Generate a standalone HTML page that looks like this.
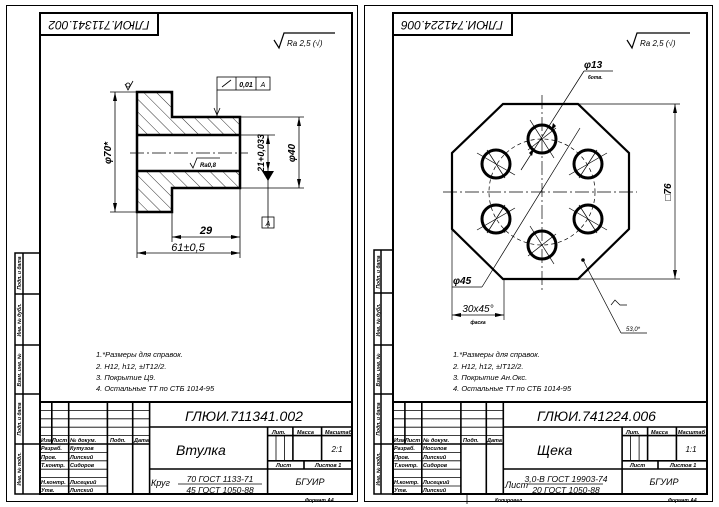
<!DOCTYPE html>
<html><head><meta charset="utf-8"><style>
html,body{margin:0;padding:0;background:#fff;}
svg{display:block;}
text{font-family:"Liberation Sans",sans-serif;font-style:italic;fill:#000;}
</style></head><body>
<svg width="719" height="507" viewBox="0 0 719 507" xmlns="http://www.w3.org/2000/svg">
<defs>
<pattern id="h" width="9" height="9" patternUnits="userSpaceOnUse" patternTransform="rotate(-45)">
<line x1="0" y1="0" x2="0" y2="9" stroke="#000" stroke-width="0.8"/>
</pattern>
</defs>
<rect width="719" height="507" fill="#fff"/>
<g fill="none" stroke="#000" stroke-width="1">
<rect x="6.5" y="5.5" width="351" height="496"/>
<rect x="364.5" y="5.5" width="348" height="496"/>
</g>
<g fill="none" stroke="#000" stroke-width="2">
<rect x="40" y="13" width="312" height="481"/>
<rect x="393" y="13" width="314" height="481"/>
<rect x="40" y="13" width="118" height="22"/>
<rect x="393" y="13" width="119" height="22"/>
</g>
<text transform="translate(99,24) rotate(180)" font-size="12" text-anchor="middle" dominant-baseline="middle">ГЛЮИ.711341.002</text>
<text transform="translate(452,24) rotate(180)" font-size="12" text-anchor="middle" dominant-baseline="middle">ГЛЮИ.741224.006</text>

<g fill="none" stroke="#000" stroke-width="1.2">
<path d="M274,40 L279,48 L284,33 H335"/>
<path d="M627,40 L632,48 L637,33 H690"/>
</g>
<text x="287" y="46" font-size="8">Ra 2,5 (√)</text>
<text x="640" y="46" font-size="8">Ra 2,5 (√)</text>

<path d="M137,92 H172 V117 H240 V135 H137 Z" fill="url(#h)"/>
<path d="M137,171 H240 V188 H172 V212 H137 Z" fill="url(#h)"/>
<g fill="none" stroke="#000" stroke-width="2.5">
<path d="M137,92 H172 V117 H240 V188 H172 V212 H137 Z"/>
<line x1="137" y1="135" x2="240" y2="135"/>
<line x1="137" y1="171" x2="240" y2="171"/>
</g>
<g stroke="#000" stroke-width="0.8" fill="none">
<line x1="130" y1="153" x2="248" y2="153" stroke-dasharray="14,3,2,3"/>
<line x1="110" y1="92" x2="137" y2="92"/><line x1="110" y1="212" x2="137" y2="212"/>
<line x1="115" y1="92" x2="115" y2="212"/>
<line x1="240" y1="117" x2="304" y2="117"/><line x1="240" y1="188" x2="304" y2="188"/>
<line x1="299" y1="117" x2="299" y2="188"/>
<line x1="240" y1="135" x2="275" y2="135"/>
<line x1="268" y1="135" x2="268" y2="228"/>
<rect x="262" y="217" width="12" height="11"/>
<rect x="217" y="77" width="53" height="13"/>
<line x1="236" y1="77" x2="236" y2="90"/><line x1="256" y1="77" x2="256" y2="90"/>
<line x1="217" y1="90" x2="217" y2="117"/>
<line x1="222" y1="87" x2="231" y2="80"/>
<path d="M214,108 L217,115 L220,108"/>
<line x1="172" y1="212" x2="172" y2="242"/>
<line x1="137" y1="212" x2="137" y2="258"/>
<line x1="240" y1="188" x2="240" y2="258"/>
<line x1="172" y1="237" x2="240" y2="237"/>
<line x1="137" y1="253" x2="240" y2="253"/>
<path d="M190,163 L193,168 L197,158 H220"/>
<path d="M125,84 L128,90 L133,81"/>
<circle cx="128" cy="85" r="2"/>
</g>
<g fill="#000">
<path d="M115,92 l-2,9 h4z"/><path d="M115,212 l-2,-9 h4z"/>
<path d="M299,117 l-2,9 h4z"/><path d="M299,188 l-2,-9 h4z"/>
<path d="M268,135 l-2,9 h4z"/><path d="M268,171 l-2,-9 h4z"/>
<path d="M262,171 h12 l-6,10z"/>
<path d="M172,237 l9,-2 v4z"/><path d="M240,237 l-9,-2 v4z"/>
<path d="M137,253 l9,-2 v4z"/><path d="M240,253 l-9,-2 v4z"/>
</g>
<text x="268" y="226" font-size="7" text-anchor="middle">A</text>
<text x="246" y="87" font-size="7" text-anchor="middle" font-weight="bold">0,01</text>
<text x="263" y="87" font-size="7" text-anchor="middle">A</text>
<text x="200" y="167" font-size="6" font-weight="bold">Ra0,8</text>
<text transform="translate(111,153) rotate(-90)" font-size="10" text-anchor="middle" font-weight="bold">φ70*</text>
<text transform="translate(295,153) rotate(-90)" font-size="10" text-anchor="middle" font-weight="bold">φ40</text>
<text transform="translate(264,153) rotate(-90)" font-size="9" text-anchor="middle" font-weight="bold">21+0,033</text>
<text x="206" y="234" font-size="11" text-anchor="middle" font-weight="bold">29</text>
<text x="188" y="251" font-size="11" text-anchor="middle">61±0,5</text>

<g fill="none" stroke="#000">
<path d="M503,104 H578 L629,153 V229 L578,279 H503 L452,229 V153 Z" stroke-width="2.2"/>
<g stroke-width="3">
<circle cx="542" cy="139" r="14"/><circle cx="542" cy="245" r="14"/>
<circle cx="496" cy="164" r="14"/><circle cx="588" cy="164" r="14"/>
<circle cx="496" cy="219" r="14"/><circle cx="588" cy="219" r="14"/>
</g>
<g stroke-width="0.7">
<circle cx="542" cy="192" r="53" stroke-dasharray="4,3"/>
<line x1="443" y1="192" x2="637" y2="192" stroke-dasharray="14,3,2,3"/>
<line x1="542" y1="95" x2="542" y2="290" stroke-dasharray="14,3,2,3"/>
<line x1="477" y1="153" x2="515" y2="175"/><line x1="569" y1="175" x2="607" y2="153"/>
<line x1="477" y1="230" x2="515" y2="208"/><line x1="569" y1="208" x2="607" y2="230"/>
<line x1="487" y1="150" x2="505" y2="178"/><line x1="579" y1="178" x2="597" y2="150"/>
<line x1="487" y1="233" x2="505" y2="205"/><line x1="579" y1="205" x2="597" y2="233"/>
<line x1="530" y1="120" x2="554" y2="158"/><line x1="528" y1="150" x2="556" y2="128"/>
<line x1="530" y1="226" x2="554" y2="264"/><line x1="528" y1="256" x2="556" y2="234"/>
<line x1="578" y1="104" x2="680" y2="104"/><line x1="578" y1="279" x2="680" y2="279"/>
<line x1="675" y1="104" x2="675" y2="279"/>
<line x1="521" y1="170" x2="584" y2="71"/>
<line x1="584" y1="71" x2="613" y2="71"/>
<line x1="580" y1="128" x2="482" y2="287"/>
<line x1="482" y1="287" x2="452" y2="287"/>
<line x1="452" y1="229" x2="452" y2="320"/>
<line x1="504" y1="279" x2="504" y2="320"/>
<line x1="452" y1="315" x2="504" y2="315"/>
<line x1="583" y1="260" x2="621" y2="333"/>
<line x1="621" y1="333" x2="647" y2="333"/>
<path d="M611,305 L615,300 L620,305 H627"/>
</g>
</g>
<g fill="#000">
<path d="M675,104 l-2,9 h4z"/><path d="M675,279 l-2,-9 h4z"/>
<path d="M553,123 l-2,8 l5,-5z"/><path d="M532,156 l2,-8 l-5,5z"/>
<path d="M505,233 l2,-8 l-5,5z"/>
<path d="M452,315 l9,-2 v4z"/><path d="M504,315 l-9,-2 v4z"/>
<circle cx="583" cy="260" r="1.8"/>
</g>
<text x="584" y="68" font-size="10" font-weight="bold">φ13</text>
<text x="588" y="79" font-size="5" font-weight="bold">6отв.</text>
<text transform="translate(671,192) rotate(-90)" font-size="10" text-anchor="middle" font-weight="bold">□76</text>
<text x="453" y="284" font-size="10" font-weight="bold">φ45</text>
<text x="478" y="312" font-size="10" text-anchor="middle">30x45°</text>
<text x="478" y="324" font-size="5" text-anchor="middle" font-weight="bold">фаска</text>
<text x="626" y="331" font-size="6">53,0*</text>

<g font-size="7.5">
<text x="96" y="357">1.*Размеры для справок.</text>
<text x="96" y="369">2. H12, h12, ±IT12/2.</text>
<text x="96" y="380">3. Покрытие Ц9.</text>
<text x="96" y="391">4. Остальные ТТ по СТБ 1014-95</text>
<text x="453" y="357">1.*Размеры для справок.</text>
<text x="453" y="369">2. H12, h12, ±IT12/2.</text>
<text x="453" y="380">3. Покрытие Ан.Окс.</text>
<text x="453" y="391">4. Остальные ТТ по СТБ 1014-95</text>
</g>

<g fill="none" stroke="#000" stroke-width="1.5">
<rect x="15" y="253" width="25" height="241"/>
<line x1="23" y1="253" x2="23" y2="494"/>
<line x1="15" y1="294" x2="40" y2="294"/><line x1="15" y1="345" x2="40" y2="345"/>
<line x1="15" y1="394" x2="40" y2="394"/><line x1="15" y1="444" x2="40" y2="444"/>
<rect x="374" y="250" width="19" height="244"/>
<line x1="381" y1="250" x2="381" y2="494"/>
<line x1="374" y1="293" x2="393" y2="293"/><line x1="374" y1="345" x2="393" y2="345"/>
<line x1="374" y1="394" x2="393" y2="394"/><line x1="374" y1="444" x2="393" y2="444"/>
</g>
<g font-size="5" font-weight="bold">
<text transform="translate(21,273) rotate(-90)" text-anchor="middle">Подп. и дата</text>
<text transform="translate(21,320) rotate(-90)" text-anchor="middle">Инв. № дубл.</text>
<text transform="translate(21,370) rotate(-90)" text-anchor="middle">Взам. инв. №</text>
<text transform="translate(21,419) rotate(-90)" text-anchor="middle">Подп. и дата</text>
<text transform="translate(21,469) rotate(-90)" text-anchor="middle">Инв. № подл.</text>
<text transform="translate(380,272) rotate(-90)" text-anchor="middle">Подп. и дата</text>
<text transform="translate(380,320) rotate(-90)" text-anchor="middle">Инв. № дубл.</text>
<text transform="translate(380,370) rotate(-90)" text-anchor="middle">Взам. инв. №</text>
<text transform="translate(380,419) rotate(-90)" text-anchor="middle">Подп. и дата</text>
<text transform="translate(380,469) rotate(-90)" text-anchor="middle">Инв. № подл.</text>
</g>

<g stroke="#000" fill="none">
<line x1="40" y1="402" x2="352" y2="402" stroke-width="2"/>
<g stroke-width="1.6">
<line x1="51.8" y1="402" x2="51.8" y2="444"/>
<line x1="68.7" y1="402" x2="68.7" y2="494"/>
<line x1="107.4" y1="402" x2="107.4" y2="494"/>
<line x1="132.7" y1="402" x2="132.7" y2="494"/>
<line x1="149.6" y1="402" x2="149.6" y2="494"/>
<line x1="149.6" y1="427" x2="352" y2="427"/>
<line x1="40" y1="444" x2="149.6" y2="444"/>
<line x1="149.6" y1="469" x2="352" y2="469"/>
<line x1="267.6" y1="427" x2="267.6" y2="494"/>
<line x1="267.6" y1="435.6" x2="352" y2="435.6"/>
<line x1="267.6" y1="460.8" x2="352" y2="460.8"/>
<line x1="292.9" y1="427" x2="292.9" y2="460.8"/>
<line x1="321.6" y1="427" x2="321.6" y2="460.8"/>
<line x1="304" y1="460.8" x2="304" y2="469"/>
</g>
<g stroke-width="0.8">
<line x1="40" y1="410.4" x2="149.6" y2="410.4"/><line x1="40" y1="418.8" x2="149.6" y2="418.8"/>
<line x1="40" y1="427.2" x2="149.6" y2="427.2"/><line x1="40" y1="435.6" x2="149.6" y2="435.6"/>
<line x1="40" y1="452.4" x2="107.4" y2="452.4"/><line x1="40" y1="460.8" x2="107.4" y2="460.8"/>
<line x1="40" y1="469.2" x2="107.4" y2="469.2"/><line x1="40" y1="477.6" x2="107.4" y2="477.6"/>
<line x1="40" y1="486" x2="107.4" y2="486"/>
<line x1="276" y1="435.6" x2="276" y2="460.8"/><line x1="284.5" y1="435.6" x2="284.5" y2="460.8"/>
<line x1="178" y1="484" x2="262" y2="484"/>
</g>
</g>
<g font-size="5.5" font-weight="bold">
<text x="41" y="442">Изм.</text><text x="52" y="442">Лист</text><text x="70" y="442">№ докум.</text><text x="110" y="442">Подп.</text><text x="134" y="442">Дата</text>
<text x="41" y="450">Разраб.</text><text x="70" y="450">Кутузов</text>
<text x="41" y="459">Пров.</text><text x="70" y="459">Липский</text>
<text x="41" y="467">Т.контр.</text><text x="70" y="467">Сидоров</text>
<text x="41" y="484">Н.контр.</text><text x="70" y="484">Лисецкий</text>
<text x="41" y="492">Утв.</text><text x="70" y="492">Липский</text>
<text x="272" y="434">Лит.</text><text x="297" y="434">Масса</text><text x="325" y="434">Масштаб</text>
<text x="276" y="467">Лист</text><text x="315" y="467">Листов 1</text>
</g>
<text x="185" y="421" font-size="14">ГЛЮИ.711341.002</text>
<text x="176" y="455" font-size="14">Втулка</text>
<text x="337" y="452" font-size="8" text-anchor="middle">2:1</text>
<text x="151" y="486" font-size="9">Круг</text>
<text x="220" y="482" font-size="8.5" text-anchor="middle">70 ГОСТ 1133-71</text>
<text x="220" y="493" font-size="8.5" text-anchor="middle">45 ГОСТ 1050-88</text>
<text x="310" y="485" font-size="9" text-anchor="middle">БГУИР</text>
<text x="305" y="502" font-size="5" font-weight="bold">Формат А4</text>

<g stroke="#000" fill="none">
<line x1="393" y1="402" x2="707" y2="402" stroke-width="2"/>
<g stroke-width="1.6">
<line x1="404.9" y1="402" x2="404.9" y2="444"/>
<line x1="421.8" y1="402" x2="421.8" y2="494"/>
<line x1="460.9" y1="402" x2="460.9" y2="494"/>
<line x1="486.3" y1="402" x2="486.3" y2="494"/>
<line x1="503.3" y1="402" x2="503.3" y2="494"/>
<line x1="503.3" y1="427" x2="707" y2="427"/>
<line x1="393" y1="444" x2="503.3" y2="444"/>
<line x1="503.3" y1="469" x2="707" y2="469"/>
<line x1="622.1" y1="427" x2="622.1" y2="494"/>
<line x1="622.1" y1="435.6" x2="707" y2="435.6"/>
<line x1="622.1" y1="460.8" x2="707" y2="460.8"/>
<line x1="647.6" y1="427" x2="647.6" y2="460.8"/>
<line x1="676.4" y1="427" x2="676.4" y2="460.8"/>
<line x1="658" y1="460.8" x2="658" y2="469"/>
</g>
<g stroke-width="0.8">
<line x1="393" y1="410.4" x2="503.3" y2="410.4"/><line x1="393" y1="418.8" x2="503.3" y2="418.8"/>
<line x1="393" y1="427.2" x2="503.3" y2="427.2"/><line x1="393" y1="435.6" x2="503.3" y2="435.6"/>
<line x1="393" y1="452.4" x2="460.9" y2="452.4"/><line x1="393" y1="460.8" x2="460.9" y2="460.8"/>
<line x1="393" y1="469.2" x2="460.9" y2="469.2"/><line x1="393" y1="477.6" x2="460.9" y2="477.6"/>
<line x1="393" y1="486" x2="460.9" y2="486"/>
<line x1="630.6" y1="435.6" x2="630.6" y2="460.8"/><line x1="639.1" y1="435.6" x2="639.1" y2="460.8"/>
<line x1="527" y1="484" x2="603" y2="484"/>
<line x1="467" y1="494" x2="467" y2="504"/>
</g>
</g>
<g font-size="5.5" font-weight="bold">
<text x="394" y="442">Изм.</text><text x="405" y="442">Лист</text><text x="423" y="442">№ докум.</text><text x="463" y="442">Подп.</text><text x="487" y="442">Дата</text>
<text x="394" y="450">Разраб.</text><text x="423" y="450">Носилов</text>
<text x="394" y="459">Пров.</text><text x="423" y="459">Липский</text>
<text x="394" y="467">Т.контр.</text><text x="423" y="467">Сидоров</text>
<text x="394" y="484">Н.контр.</text><text x="423" y="484">Лисецкий</text>
<text x="394" y="492">Утв.</text><text x="423" y="492">Липский</text>
<text x="626" y="434">Лит.</text><text x="651" y="434">Масса</text><text x="678" y="434">Масштаб</text>
<text x="630" y="467">Лист</text><text x="670" y="467">Листов 1</text>
</g>
<text x="537" y="421" font-size="14">ГЛЮИ.741224.006</text>
<text x="537" y="455" font-size="14">Щека</text>
<text x="691" y="452" font-size="8" text-anchor="middle">1:1</text>
<text x="505" y="488" font-size="9">Лист</text>
<text x="566" y="482" font-size="8.5" text-anchor="middle">3,0-В ГОСТ 19903-74</text>
<text x="566" y="493" font-size="8.5" text-anchor="middle">20 ГОСТ 1050-88</text>
<text x="664" y="485" font-size="9" text-anchor="middle">БГУИР</text>
<text x="495" y="502" font-size="5" font-weight="bold">Копировал</text>
<text x="668" y="502" font-size="5" font-weight="bold">Формат А4</text>
</svg>
</body></html>
